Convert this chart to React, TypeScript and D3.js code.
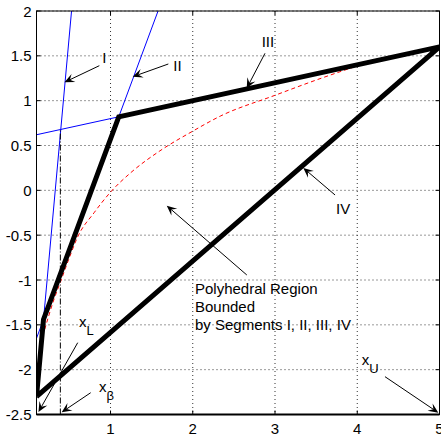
import { useRef, useEffect } from "react";
import * as d3 from "d3";

const W = 441;
const H = 436;

// axis
const xDomain = [0.1, 5];
const yDomain = [-2.5, 2];
const xTicks = [1, 2, 3, 4, 5];
const yTicks = [-2.5, -2, -1.5, -1, -0.5, 0, 0.5, 1, 1.5, 2];

// polygon vertices (A -> B -> C -> D -> A)
const polyX = [0.1, 0.185, 1.1, 5, 0.1];
const polyY = [-2.3, -1.44, 0.82, 1.6, -2.3];

// blue extension lines: [x1, y1, x2, y2]
const lineI = [0.1, -2.3, 0.526, 2];
const lineII = [0.1, -1.65, 1.578, 2];
const lineIII = [0.1, 0.62, 5, 1.6];

// red dashed curve
const curveX = [0.2, 0.3, 0.4, 0.5, 0.6, 0.8, 1.0, 1.25, 1.6, 2.0, 2.34, 3.0, 3.5, 4.04];
const curveY = [-1.55, -1.25, -1.0, -0.75, -0.52, -0.25, -0.02, 0.2, 0.44, 0.66, 0.83, 1.06, 1.23, 1.4];

// dash-dot vertical at x_beta
const xBeta = 0.39;
const xBetaTop = 0.68;

// annotation arrows: tail x, tail y, tip x, tip y
const arrows = [
  [0.864, 1.39, 0.44, 1.205],
  [1.703, 1.409, 1.27, 1.267],
  [2.878, 1.528, 2.656, 1.138],
  [3.73, -0.052, 3.344, 0.25],
  [2.657, -0.944, 1.684, -0.171],
  [0.601, -1.699, 0.124, -2.472],
  [0.759, -2.257, 0.406, -2.475],
  [4.337, -2.078, 4.986, -2.48],
];

// plain labels
const labelText = ["I", "II", "III", "IV"];
const labelX = [0.9, 1.763, 2.838, 3.742];
const labelY = [1.417, 1.334, 1.602, -0.264];

const regionLines = ["Polyhedral Region", "Bounded", "by Segments I, II, III, IV"];
const regionX = 2.027;
const regionY = [-1.156, -1.36, -1.557];

// subscripted labels
const subMain = ["x", "x", "x"];
const subText = ["L", "\u03B2", "U"];
const subX = [0.617, 0.86, 4.054];
const subY = [-1.524, -2.249, -1.948];

export default function App() {
  const svgRef = useRef<SVGSVGElement>(null);

  useEffect(() => {
    const svg = d3.select(svgRef.current);
    svg.selectAll("*").remove();

    const left = 36.5, right = 439.5, top = 11, bottom = 414.5;
    const x = d3.scaleLinear().domain(xDomain).range([left, right]);
    const y = d3.scaleLinear().domain(yDomain).range([bottom, top]);
    const font = "'Liberation Sans', Arial, sans-serif";
    const fs = 15;

    svg.append("defs").append("clipPath").attr("id", "plotclip")
      .append("rect").attr("x", left).attr("y", top)
      .attr("width", right - left).attr("height", bottom - top);

    // grid
    const grid = svg.append("g").attr("stroke", "#333").attr("stroke-width", 1)
      .attr("stroke-dasharray", "1,3");
    xTicks.forEach((t) => {
      grid.append("line").attr("x1", x(t)).attr("x2", x(t)).attr("y1", top).attr("y2", bottom);
    });
    yTicks.forEach((t) => {
      grid.append("line").attr("x1", left).attr("x2", right).attr("y1", y(t)).attr("y2", y(t));
    });

    const plot = svg.append("g").attr("clip-path", "url(#plotclip)");

    // blue lines
    [lineI, lineII, lineIII].forEach((l) => {
      plot.append("line")
        .attr("x1", x(l[0])).attr("y1", y(l[1]))
        .attr("x2", x(l[2])).attr("y2", y(l[3]))
        .attr("stroke", "#0000ff").attr("stroke-width", 1);
    });

    // red dashed curve
    const curve = d3.line<number>()
      .x((d, i) => x(curveX[i]))
      .y((d) => y(d))
      .curve(d3.curveMonotoneX);
    plot.append("path").attr("d", curve(curveY))
      .attr("fill", "none").attr("stroke", "#ff0000").attr("stroke-width", 1)
      .attr("stroke-dasharray", "4,3");

    // dash-dot vertical
    plot.append("line")
      .attr("x1", x(xBeta)).attr("x2", x(xBeta))
      .attr("y1", y(yDomain[0])).attr("y2", y(xBetaTop))
      .attr("stroke", "#000").attr("stroke-width", 1)
      .attr("stroke-dasharray", "6,2,1,2");

    // polygon
    const poly = d3.line<number>().x((d, i) => x(polyX[i])).y((d) => y(d));
    plot.append("path").attr("d", poly(polyY))
      .attr("fill", "none").attr("stroke", "#000").attr("stroke-width", 5)
      .attr("stroke-linejoin", "miter");

    // axes box
    svg.append("rect").attr("x", left).attr("y", top)
      .attr("width", right - left).attr("height", bottom - top)
      .attr("fill", "none").attr("stroke", "#000").attr("stroke-width", 1);
    svg.append("line").attr("x1", left).attr("x2", right).attr("y1", bottom).attr("y2", bottom)
      .attr("stroke", "#000").attr("stroke-width", 2);

    // ticks (inward, all sides)
    const tk = svg.append("g").attr("stroke", "#000").attr("stroke-width", 1);
    xTicks.forEach((t) => {
      tk.append("line").attr("x1", x(t)).attr("x2", x(t)).attr("y1", bottom).attr("y2", bottom - 4);
      tk.append("line").attr("x1", x(t)).attr("x2", x(t)).attr("y1", top).attr("y2", top + 4);
    });
    yTicks.forEach((t) => {
      tk.append("line").attr("x1", left).attr("x2", left + 4).attr("y1", y(t)).attr("y2", y(t));
      tk.append("line").attr("x1", right).attr("x2", right - 4).attr("y1", y(t)).attr("y2", y(t));
    });

    // tick labels
    xTicks.forEach((t) => {
      svg.append("text").attr("x", x(t)).attr("y", bottom + 19)
        .attr("text-anchor", "middle").attr("font-family", font).attr("font-size", fs)
        .text(String(t));
    });
    yTicks.forEach((t) => {
      svg.append("text").attr("x", left - 5).attr("y", y(t) + 5.5)
        .attr("text-anchor", "end").attr("font-family", font).attr("font-size", fs)
        .text(String(t));
    });

    // arrows with matlab style heads
    const ag = svg.append("g");
    arrows.forEach(([x1, y1, x2, y2]) => {
      const px1 = x(x1), py1 = y(y1), px2 = x(x2), py2 = y(y2);
      const ang = Math.atan2(py2 - py1, px2 - px1);
      const len = 10, hw = 4.5, notch = 6;
      const ux = Math.cos(ang), uy = Math.sin(ang);
      const bx = px2 - ux * len, by = py2 - uy * len;
      const nx = px2 - ux * notch, ny = py2 - uy * notch;
      ag.append("line").attr("x1", px1).attr("y1", py1).attr("x2", nx).attr("y2", ny)
        .attr("stroke", "#000").attr("stroke-width", 1);
      const head = d3.path();
      head.moveTo(px2, py2);
      head.lineTo(bx - uy * hw, by + ux * hw);
      head.lineTo(nx, ny);
      head.lineTo(bx + uy * hw, by - ux * hw);
      head.closePath();
      ag.append("path").attr("d", head.toString()).attr("fill", "#000");
    });

    // labels
    labelText.forEach((s, i) => {
      svg.append("text").attr("x", x(labelX[i])).attr("y", y(labelY[i]))
        .attr("font-family", font).attr("font-size", fs).text(s);
    });
    regionLines.forEach((s, i) => {
      svg.append("text").attr("x", x(regionX)).attr("y", y(regionY[i]))
        .attr("font-family", font).attr("font-size", fs).text(s);
    });
    subMain.forEach((s, i) => {
      const t = svg.append("text").attr("x", x(subX[i])).attr("y", y(subY[i]))
        .attr("font-family", font).attr("font-size", fs);
      t.append("tspan").text(s);
      t.append("tspan").attr("dy", 8).attr("font-size", 13).text(subText[i]);
    });
  }, []);

  return (
    <svg
      ref={svgRef}
      width={W}
      height={H}
      style={{ position: "absolute", left: 0, top: 0, background: "#fff" }}
    />
  );
}
